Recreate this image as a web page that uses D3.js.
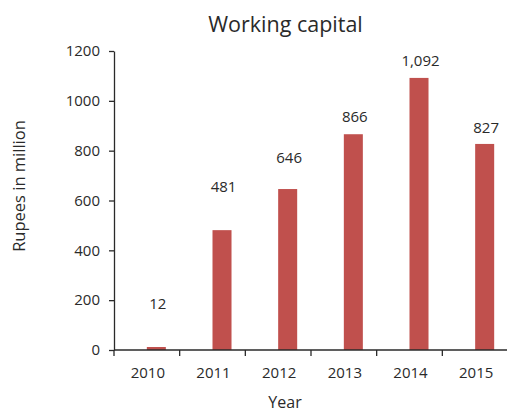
<!DOCTYPE html>
<html>
<head>
<meta charset="utf-8">
<script src="https://cdn.jsdelivr.net/npm/d3@7"></script>
<style>
  html, body { margin: 0; padding: 0; background: #fff; }
  svg { display: block; font-family: "Open Sans", sans-serif; }
</style>
</head>
<body>
<svg id="chart" width="507" height="415"></svg>
<script>
// Working capital by year (Rupees in million)
const years = ["2010", "2011", "2012", "2013", "2014", "2015"];
const workingCapital = [12, 481, 646, 866, 1092, 827];
const yTicks = [0, 200, 400, 600, 800, 1000, 1200];

(function () {
  const svg = d3.select("#chart");
  const ink = "#2a2a2a";
  const barColor = "#C0504D";

  const plotLeft = 114, plotRight = 508, plotTop = 51, plotBottom = 350;

  const x = d3.scaleBand().domain(years).range([plotLeft, plotRight]).padding(0);
  // Bars sit in the right half of each year slot
  const xSub = d3.scaleBand().domain(["empty", "value"]).range([0, x.bandwidth()])
    .paddingInner(0).paddingOuter(0.727);
  const y = d3.scaleLinear().domain([0, 1200]).range([plotBottom, plotTop]);

  // Title
  svg.append("text")
    .attr("x", 285.5).attr("y", 32)
    .attr("text-anchor", "middle")
    .attr("font-size", 21.5)
    .attr("fill", ink)
    .text("Working capital");

  // Bars
  svg.append("g").selectAll("rect")
    .data(years.map((yr, i) => ({ yr, v: workingCapital[i] })))
    .join("rect")
    .attr("x", d => x(d.yr) + xSub("value"))
    .attr("width", xSub.bandwidth())
    .attr("y", d => y(d.v))
    .attr("height", d => y(0) - y(d.v))
    .attr("fill", barColor);

  // Value labels, lifted above each bar
  const labelLift = [38, 38, 26, 12, 12, 11];
  const fmt = d3.format(",");
  svg.append("g").selectAll("text")
    .data(years.map((yr, i) => ({ yr, v: workingCapital[i], i })))
    .join("text")
    .attr("x", d => x(d.yr) + xSub("value") + xSub.bandwidth() / 2 + 1.5)
    .attr("y", d => y(d.v) - labelLift[d.i])
    .attr("text-anchor", "middle")
    .attr("font-size", 15)
    .attr("fill", ink)
    .text(d => fmt(d.v));

  // Y axis
  const yAxis = svg.append("g")
    .attr("transform", `translate(${plotLeft},0)`)
    .call(d3.axisLeft(y).tickValues(yTicks).tickFormat(d3.format("d"))
      .tickSize(5).tickSizeOuter(0).tickPadding(9));
  yAxis.select(".domain").attr("stroke", ink).attr("stroke-width", 1.3);
  yAxis.selectAll(".tick line").attr("stroke", ink).attr("stroke-width", 1.3);
  yAxis.selectAll(".tick text").attr("font-size", 15).attr("fill", ink)
    .attr("font-family", "Open Sans, sans-serif");

  // X axis: baseline with ticks at slot boundaries
  const xg = svg.append("g").attr("transform", `translate(0,${plotBottom})`);
  xg.append("line")
    .attr("x1", plotLeft).attr("x2", plotRight)
    .attr("stroke", ink).attr("stroke-width", 1.3);
  const bounds = years.map(yr => x(yr)).concat([x(years[years.length - 1]) + x.bandwidth()]);
  xg.selectAll(".bt").data(bounds).join("line")
    .attr("class", "bt")
    .attr("x1", d => d).attr("x2", d => d)
    .attr("y1", 0).attr("y2", 6)
    .attr("stroke", ink).attr("stroke-width", 1.3);
  xg.selectAll(".yl").data(years).join("text")
    .attr("class", "yl")
    .attr("x", d => x(d) + x.bandwidth() / 2 + 1)
    .attr("y", 28)
    .attr("text-anchor", "middle")
    .attr("font-size", 15)
    .attr("fill", ink)
    .text(d => d);

  // Axis titles
  svg.append("text")
    .attr("x", 285).attr("y", 408)
    .attr("text-anchor", "middle")
    .attr("font-size", 16)
    .attr("fill", ink)
    .text("Year");

  svg.append("text")
    .attr("transform", "translate(25,186) rotate(-90)")
    .attr("text-anchor", "middle")
    .attr("font-size", 16.5)
    .attr("fill", ink)
    .text("Rupees in million");
})();
</script>
</body>
</html>
